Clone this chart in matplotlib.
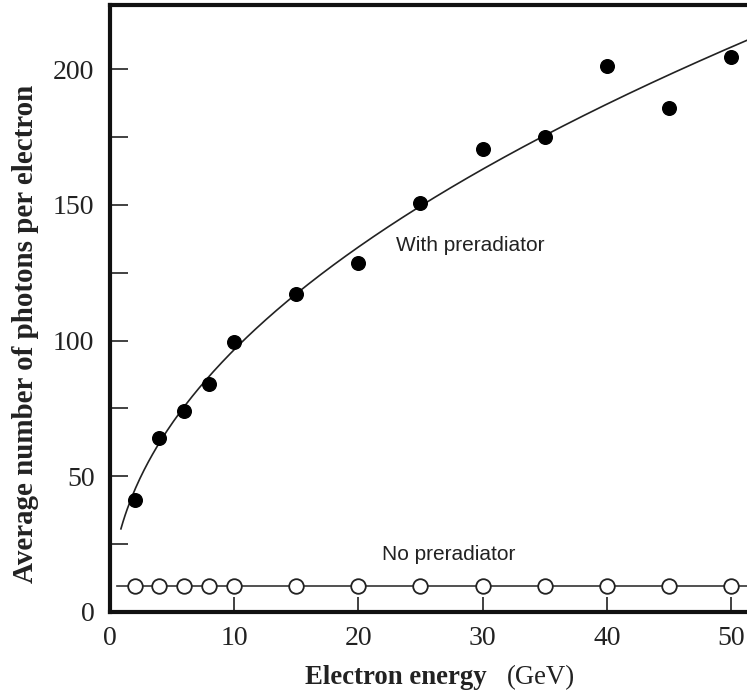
import numpy as np
import matplotlib.pyplot as plt

# measured photon yield per electron
energy = [2, 4, 6, 8, 10, 15, 20, 25, 30, 35, 40, 45, 50]
with_prerad = [41.3, 64, 74, 84, 99.5, 117, 128.6, 150.7, 170.6, 175, 201, 185.7, 204.5]
no_prerad = [9.6] * 13

# power-law fit shown in the figure: N = a * E**b
fit_a = 32.2
fit_b = 0.477

serif = "Liberation Serif"
sans = "Liberation Sans"

fig = plt.figure(figsize=(7.47, 6.93), dpi=100)
ax = fig.add_axes([0.1469, 0.1169, 0.8531, 0.8759])

xfit = np.linspace(0.9, 51.5, 300)
ax.plot(xfit, fit_a * xfit ** fit_b, color="#222222", lw=1.2, zorder=2)

ax.plot(energy, with_prerad, "o", color="black", ms=9.8, zorder=3)
ax.plot([0.56] + energy + [51.5], [no_prerad[0]] + no_prerad + [no_prerad[-1]],
        color="#333333", lw=1.2, zorder=2)
ax.plot(energy, no_prerad, "o", mfc="white", mec="#222222", mew=1.3, ms=10.5, zorder=3)

ax.text(29.0, 135, "With preradiator", family=sans, fontsize=15, ha="center", va="center", color="#222222")
ax.text(27.3, 21.3, "No preradiator", family=sans, fontsize=15, ha="center", va="center", color="#222222")

ax.set_xlim(0, 51.27)
ax.set_ylim(0, 223.6)
ax.set_xticks([0, 10, 20, 30, 40, 50])
ax.set_yticks([0, 50, 100, 150, 200])
ax.set_yticks([25, 75, 125, 175], minor=True)
ax.tick_params(axis="both", direction="in", width=1.3, color="#333333",
               labelsize=20, labelcolor="#222222")
ax.tick_params(axis="y", which="both", direction="in", length=13, width=1.3, color="#333333")
ax.tick_params(axis="x", length=11, pad=10)
ax.tick_params(axis="y", pad=11)
for lab in ax.get_xticklabels() + ax.get_yticklabels():
    lab.set_family(serif)

for side in ["left", "bottom", "top"]:
    ax.spines[side].set_linewidth(3)
    ax.spines[side].set_color("#111111")
ax.spines["right"].set_visible(False)

fig.text(0.034, 0.518, "Average number of photons per electron", family=serif,
         fontweight="bold", fontsize=20.9, rotation=90, ha="center", va="center", color="#222222")
fig.text(0.652, 0.022, "Electron energy", family=serif, fontweight="bold", fontsize=19.3,
         ha="right", va="center", color="#222222")
fig.text(0.679, 0.022, "(GeV)", family=serif, fontsize=19.3, ha="left", va="center", color="#222222")

fig.savefig("out.png", dpi=100)
